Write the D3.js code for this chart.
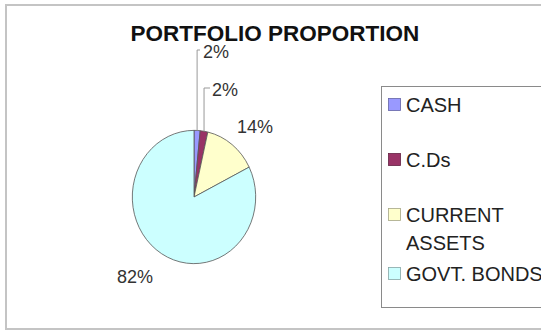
<!DOCTYPE html>
<html>
<head>
<meta charset="utf-8">
<script src="https://cdn.jsdelivr.net/npm/d3@7"></script>
<style>
  html, body { margin: 0; padding: 0; background: #fff; }
  svg { display: block; }
  text { font-family: "Liberation Sans", Arial, sans-serif; }
</style>
</head>
<body>
<svg id="chart" width="541" height="331"></svg>
<script>
// ---- data ----
const categories = ["CASH", "C.Ds", "CURRENT ASSETS", "GOVT. BONDS"];
const legendLines = [["CASH"], ["C.Ds"], ["CURRENT", "ASSETS"], ["GOVT. BONDS"]];
const values = [1.6, 2.0, 14.0, 82.4];
const colors = ["#9999FF", "#993366", "#FFFFCC", "#CCFFFF"];
const title = "PORTFOLIO PROPORTION";

// ---- layout ----
const W = 541, H = 331;
const cx = 194, cy = 197, R = 61.7, yStretch = 1.08;
// label placement (text start x, baseline y) and leader line top (for small slices)
const labelLayout = [
  { x: 203, y: 58, leaderY: 50, tickTo: 200 },
  { x: 212, y: 96, leaderY: 88, tickTo: 210 },
  { x: 237, y: 133 },
  { x: 117, y: 283 }
];
const legendBaselines = [[112], [167], [222, 250], [281]];

const svg = d3.select("#chart");

// outer frame
svg.append("rect")
  .attr("x", 6).attr("y", 5).attr("width", 600).attr("height", 324)
  .attr("fill", "#fff").attr("stroke", "#c4c4c4").attr("stroke-width", 2);

// title
svg.append("text")
  .attr("x", 275).attr("y", 41)
  .attr("text-anchor", "middle")
  .attr("font-size", 22.5).attr("font-weight", "bold").attr("fill", "#111")
  .text(title);

// pie
const total = d3.sum(values);
const pie = d3.pie().sort(null).value(d => d)(values);
const arc = d3.arc().innerRadius(0).outerRadius(R);

const g = svg.append("g")
  .attr("transform", `translate(${cx},${cy}) scale(1,${yStretch})`);

g.selectAll("path")
  .data(pie)
  .join("path")
  .attr("d", arc)
  .attr("fill", (d, i) => colors[i])
  .attr("stroke", "#555")
  .attr("stroke-width", 0.8)
  .attr("vector-effect", "non-scaling-stroke");

// leader lines for small slices
pie.forEach((d, i) => {
  const L = labelLayout[i];
  if (L.leaderY === undefined) return;
  const mid = (d.startAngle + d.endAngle) / 2;
  const px = cx + R * Math.sin(mid);
  const py = cy - R * Math.cos(mid) * yStretch;
  svg.append("polyline")
    .attr("points", `${px},${py} ${px},${L.leaderY} ${L.tickTo},${L.leaderY}`)
    .attr("fill", "none")
    .attr("stroke", "#999")
    .attr("stroke-width", 1);
});

// data labels
svg.selectAll("text.lbl")
  .data(pie)
  .join("text")
  .attr("class", "lbl")
  .attr("x", (d, i) => labelLayout[i].x)
  .attr("y", (d, i) => labelLayout[i].y)
  .attr("font-size", 18)
  .attr("fill", "#333")
  .text(d => Math.round(d.data / total * 100) + "%");

// legend
svg.append("rect")
  .attr("x", 381.5).attr("y", 86.5).attr("width", 220).attr("height", 221)
  .attr("fill", "#fff").attr("stroke", "#8a8a8a").attr("stroke-width", 1);

categories.forEach((c, i) => {
  const b = legendBaselines[i];
  svg.append("rect")
    .attr("x", 388.5).attr("y", b[0] - 13.5)
    .attr("width", 12).attr("height", 12)
    .attr("fill", colors[i])
    .attr("stroke", d3.color(colors[i]).darker(1.2))
    .attr("stroke-width", 0.8);
  legendLines[i].forEach((line, j) => {
    svg.append("text")
      .attr("x", 406).attr("y", b[j])
      .attr("font-size", 20)
      .attr("fill", "#222")
      .text(line);
  });
});
</script>
</body>
</html>
